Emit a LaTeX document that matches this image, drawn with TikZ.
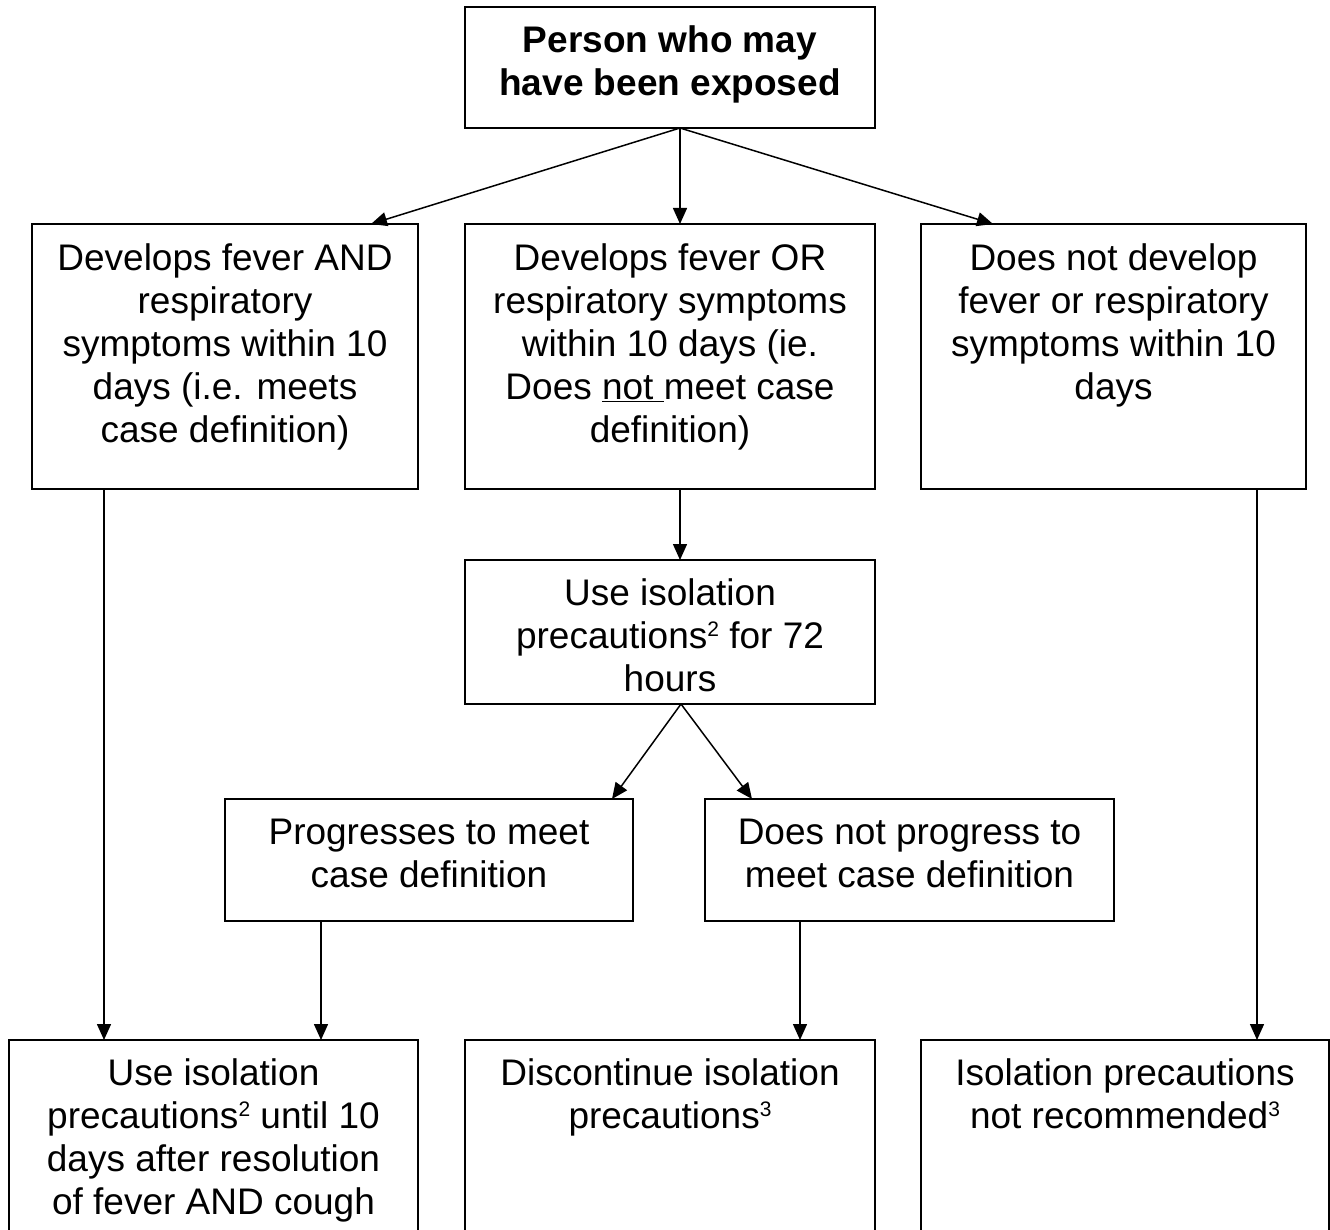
\documentclass[tikz,border=0pt]{standalone}
\usepackage{fontspec}
\setmainfont{Liberation Sans}
\usetikzlibrary{arrows.meta}
\newcommand\mystrut{\rule{0pt}{30pt}}
\newcommand\mysup[1]{\raisebox{12pt}{\fontsize{21}{21}\selectfont #1}}
\begin{document}
\begin{tikzpicture}[x=1pt,y=-1pt,
  box/.style={draw, line width=2pt, rectangle, inner sep=0pt, outer sep=0pt},
  txt/.style={anchor=north, align=center, inner sep=0pt, font=\fontsize{37}{43}\selectfont},
  ttl/.style={txt, font=\fontsize{37}{43}\selectfont\bfseries},
  arr/.style={line width=1.5pt, -{Triangle[length=16pt,width=14pt]}}]
\clip (0,0) rectangle (1330,1230);
\fill[white] (0,0) rectangle (1330,1230);
% boxes
\node[box, minimum width=410pt, minimum height=121pt] (top) at (670,67.5) {};
\node[box, minimum width=386pt, minimum height=265pt] (dl) at (225,356.5) {};
\node[box, minimum width=410pt, minimum height=265pt] (dm) at (670,356.5) {};
\node[box, minimum width=385pt, minimum height=265pt] (dr) at (1113.5,356.5) {};
\node[box, minimum width=410pt, minimum height=144pt] (iso) at (670,632) {};
\node[box, minimum width=408pt, minimum height=122pt] (prog) at (429,860) {};
\node[box, minimum width=409pt, minimum height=122pt] (nprog) at (909.5,860) {};
\node[box, minimum width=409pt, minimum height=210pt] (bl) at (213.5,1145) {};
\node[box, minimum width=410pt, minimum height=210pt] (bm) at (670,1145) {};
\node[box, minimum width=408pt, minimum height=210pt] (br) at (1125,1145) {};
% texts
\node[ttl] (ttop) at (670,22) {\mystrut Person who may\\have been exposed};
\node[txt] (tdl) at (225,240) {\mystrut Develops fever AND\\respiratory\\symptoms within 10\\days (i.e. meets\\case definition)};
\node[txt] (tdm) at (670,240) {\mystrut Develops fever OR\\respiratory symptoms\\within 10 days (ie.\\Does \underline{not\ }meet case\\definition)};
\node[txt] (tdr) at (1113.5,240) {\mystrut Does not develop\\fever or respiratory\\symptoms within 10\\days};
\node[txt] (tiso) at (670,575) {\mystrut Use isolation\\precautions\mysup{2} for 72\\hours};
\node[txt] (tprog) at (429,814) {\mystrut Progresses to meet\\case definition};
\node[txt] (tnprog) at (909.5,814) {\mystrut Does not progress to\\meet case definition};
\node[txt] (tbl) at (213.5,1055) {\mystrut Use isolation\\precautions\mysup{2} until 10\\days after resolution\\of fever AND cough};
\node[txt] (tbm) at (670,1055) {\mystrut Discontinue isolation\\precautions\mysup{3}};
\node[txt] (tbr) at (1125,1055) {\mystrut Isolation precautions\\not recommended\mysup{3}};
% connectors
\draw[arr] (top.south -| 680,0) -- (dl.north -| 371,0);
\draw[arr] (top.south -| 680,0) -- (dm.north -| 680,0);
\draw[arr] (top.south -| 680,0) -- (dr.north -| 993,0);
\draw[arr] (dl.south -| 104,0) -- (bl.north -| 104,0);
\draw[arr] (dm.south -| 680,0) -- (iso.north -| 680,0);
\draw[arr] (iso.south -| 681,0) -- (prog.north -| 612,0);
\draw[arr] (iso.south -| 681,0) -- (nprog.north -| 752,0);
\draw[arr] (prog.south -| 321,0) -- (bl.north -| 321,0);
\draw[arr] (nprog.south -| 800,0) -- (bm.north -| 800,0);
\draw[arr] (dr.south -| 1257,0) -- (br.north -| 1257,0);
\end{tikzpicture}
\end{document}
